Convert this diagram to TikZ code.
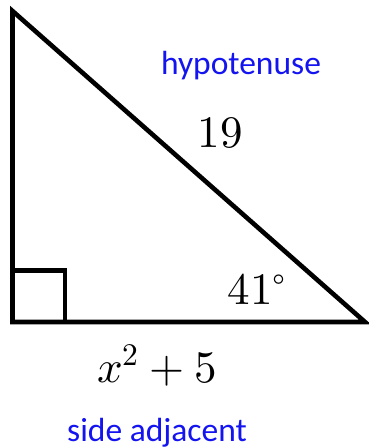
\documentclass[tikz,border=0pt]{standalone}
\usepackage{fontspec}
\usepackage{unicode-math}
\setmathfont{Latin Modern Math}
\setsansfont{Carlito}
\definecolor{TriLine}{HTML}{000000}
\definecolor{TriLabel}{HTML}{1414F0}
\begin{document}
\begin{tikzpicture}[x=1pt,y=-1pt,
    side/.style={TriLine,line width=4.6pt,line join=miter},
    word/.style={text=TriLabel,anchor=base,inner sep=0pt,font=\sffamily\fontsize{33.5}{38}\selectfont},
    val/.style={anchor=base,inner sep=0pt,font=\fontsize{45}{50}\selectfont}]
      \useasboundingbox (0,0) rectangle (369,448);
      \coordinate (top) at (12.5,11);
      \coordinate (corner) at (12.5,322);
      \coordinate (tip) at (365,322);
      \draw[side] (top) -- (corner) -- (tip) -- cycle;
      \draw[side] (12.5,270.5) -| (65,322);
      \node[word] (hyp) at (241,74) {hypotenuse};
      \node[val] (hypval) at (220,147) {$19$};
      \node[val] (ang) at (257,304) {$41^\circ$};
      \node[val] (adjval) at (157,382) {$x^2+5$};
      \node[word] (adj) at (157,441) {side adjacent};
    \end{tikzpicture}
\end{document}
